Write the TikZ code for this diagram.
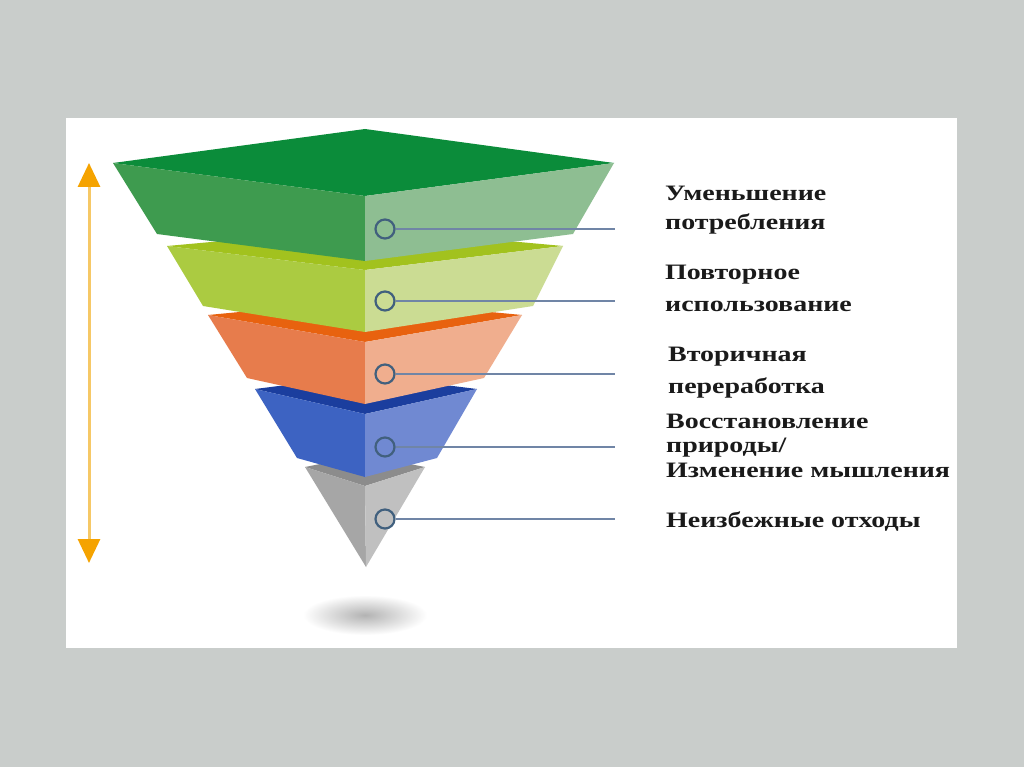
\documentclass[tikz,border=0pt]{standalone}
\usepackage{fontspec}
\setmainfont{Liberation Serif}
\newfontfamily\lblfont[FakeStretch=1.27]{Liberation Serif}
\usetikzlibrary{arrows.meta}
\definecolor{bg}{HTML}{C9CDCB}
\definecolor{gT}{HTML}{0B8C3A}\definecolor{gL}{HTML}{3E9B4F}\definecolor{gR}{HTML}{8EBE92}
\definecolor{yT}{HTML}{A2C21E}\definecolor{yL}{HTML}{ABCB41}\definecolor{yR}{HTML}{CBDC93}
\definecolor{oT}{HTML}{E8620F}\definecolor{oL}{HTML}{E77C4C}\definecolor{oR}{HTML}{F0AE8E}
\definecolor{bT}{HTML}{1B3E9E}\definecolor{bL}{HTML}{3D63C2}\definecolor{bR}{HTML}{7089D2}
\definecolor{sT}{HTML}{8C8C8C}\definecolor{sL}{HTML}{A6A6A6}\definecolor{sR}{HTML}{C0C0C0}
\definecolor{ringc}{HTML}{41607E}
\definecolor{leadc}{HTML}{7085A6}
\definecolor{arrline}{HTML}{F6C866}
\definecolor{arrhead}{HTML}{F5A300}
\definecolor{txt}{HTML}{1A1A1A}
\tikzset{
  ring/.style={circle, draw=ringc, line width=2.2pt, minimum size=19pt, inner sep=0pt},
  lead/.style={draw=leadc, line width=2.2pt},
  lbl/.style={anchor=west, inner sep=0pt, text=txt, font=\lblfont\fontsize{22}{24}\selectfont\bfseries},
  updown/.style={draw=arrline, line width=3pt,
    {Triangle[width=22pt,length=24pt,color=arrhead]}-{Triangle[width=22pt,length=24pt,color=arrhead]}}
}
\begin{document}
\begin{tikzpicture}[x=1pt,y=-1pt]
\useasboundingbox (0,0) rectangle (1024,767);
\fill[bg] (0,0) rectangle (1024,767);
\fill[white] (66,118) rectangle (957,648);
% shadow
\shade[inner color=black!30, outer color=white] (365,615) ellipse [x radius=62, y radius=20];
% layer 5 (gray)
\fill[sT] (305,467) -- (365,455) -- (425,467) -- (365,486) -- cycle;
\fill[sL] (305,467) -- (365,486) -- (366,567) -- cycle;
\fill[sR] (365,486) -- (425,467) -- (366,567) -- cycle;
% layer 4 (blue)
\fill[bT] (255,389) -- (365,375) -- (477,389) -- (365,414) -- cycle;
\fill[bL] (255,389) -- (365,414) -- (365,477) -- (297,458) -- cycle;
\fill[bR] (365,414) -- (477,389) -- (437,458) -- (365,477) -- cycle;
% layer 3 (orange)
\fill[oT] (208,315) -- (365,300) -- (522,315) -- (365,342) -- cycle;
\fill[oL] (208,315) -- (365,342) -- (365,404) -- (247,378) -- cycle;
\fill[oR] (365,342) -- (522,315) -- (484,378) -- (365,404) -- cycle;
% layer 2 (yellow-green)
\fill[yT] (167,246) -- (365,228) -- (563,246) -- (365,270) -- cycle;
\fill[yL] (167,246) -- (365,270) -- (365,332) -- (203,306) -- cycle;
\fill[yR] (365,270) -- (563,246) -- (533,306) -- (365,332) -- cycle;
% layer 1 (green)
\fill[gT] (113,163) -- (365,129) -- (614,163) -- (365,196) -- cycle;
\fill[gL] (113,163) -- (365,196) -- (365,261) -- (157,234) -- cycle;
\fill[gR] (365,196) -- (614,163) -- (573,234) -- (365,261) -- cycle;
% markers and leader lines
\node[ring] (c1) at (385,229) {};
\node[ring] (c2) at (385,301) {};
\node[ring] (c3) at (385,374) {};
\node[ring] (c4) at (385,447) {};
\node[ring] (c5) at (385,519) {};
\coordinate (e1) at (615,229);
\coordinate (e2) at (615,301);
\coordinate (e3) at (615,374);
\coordinate (e4) at (615,447);
\coordinate (e5) at (615,519);
\draw[lead] (c1) -- (e1);
\draw[lead] (c2) -- (e2);
\draw[lead] (c3) -- (e3);
\draw[lead] (c4) -- (e4);
\draw[lead] (c5) -- (e5);
% arrow
\coordinate (atop) at (89,163);
\coordinate (abot) at (89,563);
\draw[updown] (atop) -- (abot);
% labels
\node[lbl] (t1a) at (665,193) {Уменьшение};
\node[lbl] (t1b) at (665,224) {потребления};
\node[lbl] (t2a) at (665,275) {Повторное};
\node[lbl] (t2b) at (665,306) {использование};
\node[lbl] (t3a) at (668,357) {Вторичная};
\node[lbl] (t3b) at (668,388) {переработка};
\node[lbl] (t4a) at (666,421) {Восстановление};
\node[lbl] (t4b) at (666,448) {природы/};
\node[lbl] (t4c) at (666,470) {Изменение мышления};
\node[lbl] (t5) at (666,522) {Неизбежные отходы};
\end{tikzpicture}
\end{document}
